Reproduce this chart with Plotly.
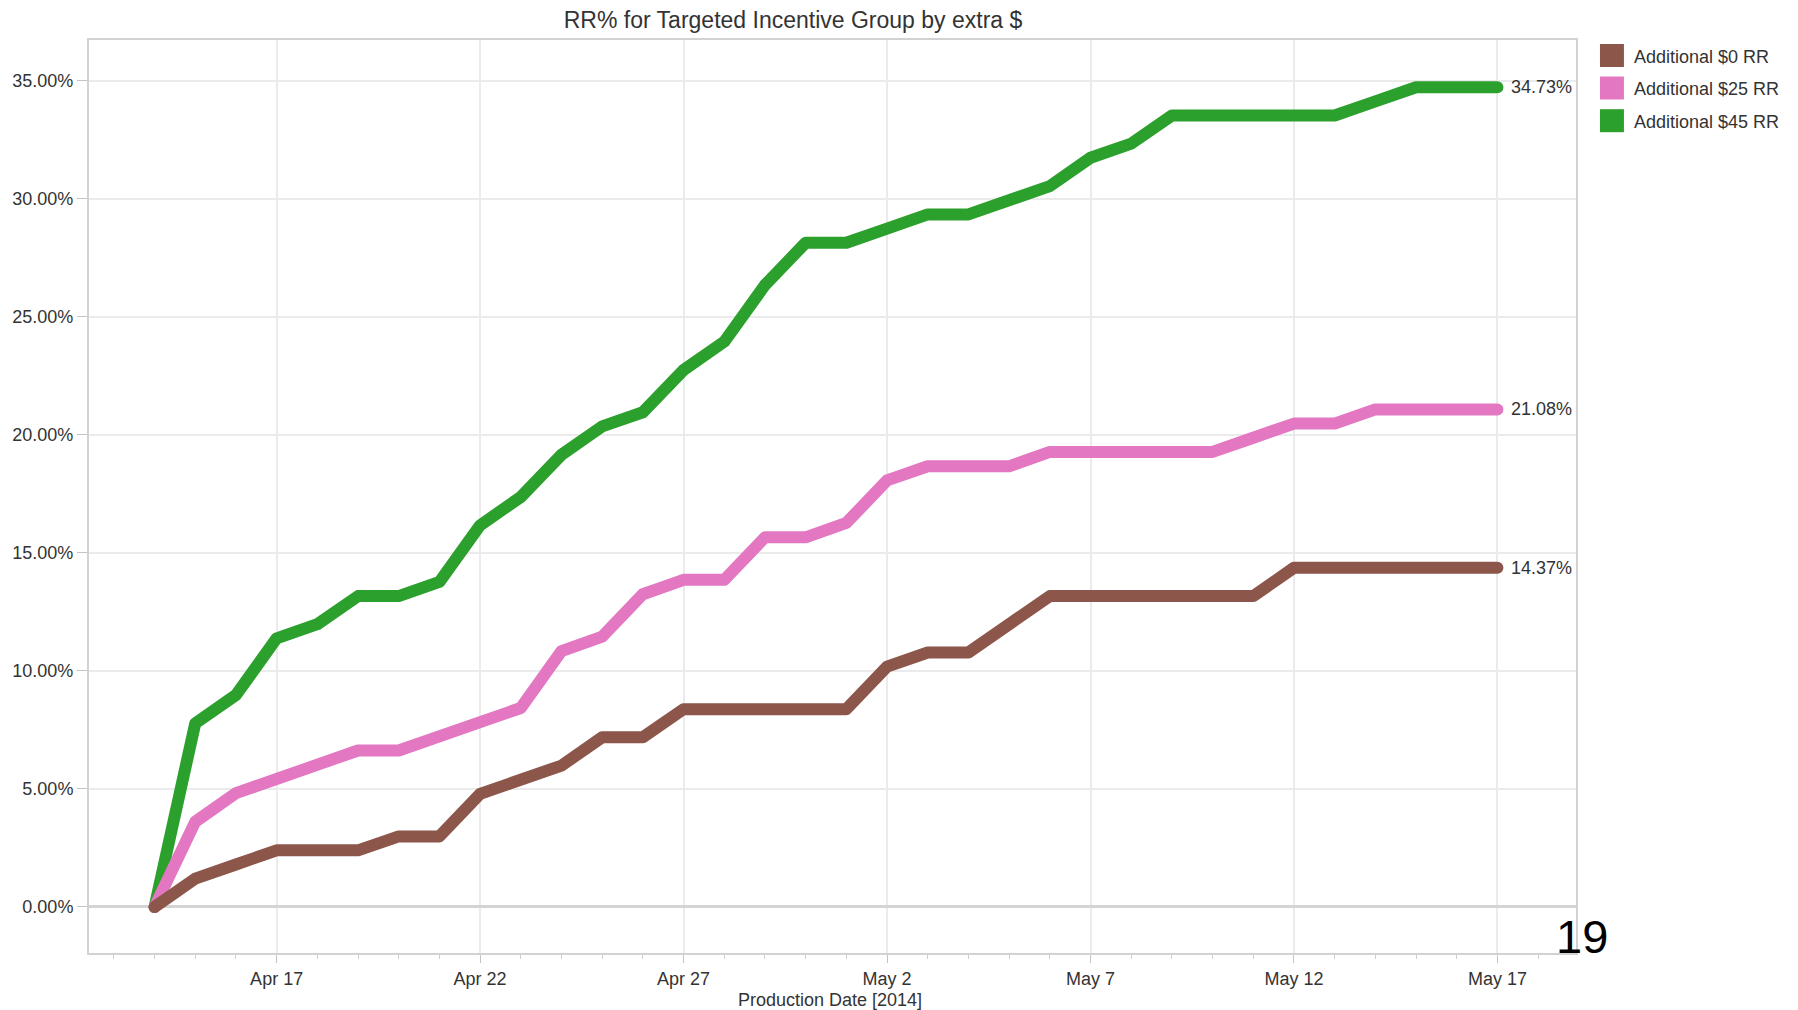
import pandas as pd
import plotly.graph_objects as go

# Daily production dates
dates = pd.date_range("2014-04-14", "2014-05-17", freq="D")

# Cumulative response rate (%) per incentive group
rr_0 = [0.00, 1.20, 1.80, 2.40, 2.40, 2.40, 2.99, 2.99, 4.79, 5.39,
        5.99, 7.19, 7.19, 8.38, 8.38, 8.38, 8.38, 8.38, 10.18, 10.78,
        10.78, 11.98, 13.17, 13.17, 13.17, 13.17, 13.17, 13.17, 14.37, 14.37,
        14.37, 14.37, 14.37, 14.37]
rr_25 = [0.00, 3.61, 4.82, 5.42, 6.02, 6.63, 6.63, 7.23, 7.83, 8.43,
         10.84, 11.45, 13.25, 13.86, 13.86, 15.66, 15.66, 16.27, 18.07, 18.67,
         18.67, 18.67, 19.28, 19.28, 19.28, 19.28, 19.28, 19.88, 20.48, 20.48,
         21.08, 21.08, 21.08, 21.08]
rr_45 = [0.00, 7.78, 8.98, 11.38, 11.98, 13.17, 13.17, 13.77, 16.17, 17.37,
         19.16, 20.36, 20.96, 22.75, 23.95, 26.35, 28.14, 28.14, 28.74, 29.34,
         29.34, 29.94, 30.54, 31.74, 32.34, 33.53, 33.53, 33.53, 33.53, 33.53,
         34.13, 34.73, 34.73, 34.73]

series_names = ["Additional $0 RR", "Additional $25 RR", "Additional $45 RR"]
series_values = [rr_0, rr_25, rr_45]
series_colors = ["#8c564b", "#e377c2", "#2ca02c"]

y_ticks = [0, 5, 10, 15, 20, 25, 30, 35]

FONT = "Liberation Sans, Arial, sans-serif"
TEXT = "#333333"
W, H = 1798, 1010
PLOT_L, PLOT_R, PLOT_T, PLOT_B = 87, 1576, 40, 953


def px(x):
    return (x - PLOT_L) / (PLOT_R - PLOT_L)


def py(y):
    return (PLOT_B - y) / (PLOT_B - PLOT_T)


fig = go.Figure()

# draw green first so the lower series sit on top near the origin
for name, vals, color in reversed(list(zip(series_names, series_values, series_colors))):
    fig.add_trace(go.Scatter(
        x=dates, y=vals, mode="lines", name=name,
        line=dict(color=color, width=12),
        showlegend=False,
        hovertemplate="%{x|%b %-d}: %{y:.2f}%<extra>" + name + "</extra>",
    ))

annotations = []
shapes = []

# end-of-line value labels
for vals in series_values:
    annotations.append(dict(
        x=dates[-1], y=vals[-1], xref="x", yref="y",
        text=f"{vals[-1]:.2f}%", showarrow=False,
        xanchor="left", yanchor="middle", xshift=12,
        font=dict(family=FONT, size=18, color=TEXT),
    ))

# legend: colour swatches with labels
row_centers = [55.5, 88.0, 120.7]
for name, color, yc in zip(series_names, series_colors, row_centers):
    shapes.append(dict(
        type="rect", xref="paper", yref="paper",
        x0=px(1600), x1=px(1624), y0=py(yc + 11.5), y1=py(yc - 11.5),
        fillcolor=color, line=dict(width=0), layer="above",
    ))
    annotations.append(dict(
        x=px(1632), y=py(yc + 1), xref="paper", yref="paper",
        text=name, showarrow=False, xanchor="left", yanchor="middle",
        font=dict(family=FONT, size=18, color=TEXT),
    ))

# x-axis title
annotations.append(dict(
    x=px(829), y=py(1000), xref="paper", yref="paper",
    text="Production Date [2014]", showarrow=False,
    xanchor="center", yanchor="middle",
    font=dict(family=FONT, size=18, color=TEXT),
))

# page number
annotations.append(dict(
    x=px(1582), y=py(936), xref="paper", yref="paper",
    text="19", showarrow=False, xanchor="center", yanchor="middle",
    font=dict(family=FONT, size=47, color="#000000"),
))

fig.update_layout(
    width=W, height=H,
    margin=dict(l=PLOT_L, r=W - PLOT_R, t=PLOT_T, b=H - PLOT_B, pad=0),
    paper_bgcolor="white", plot_bgcolor="white",
    font=dict(family=FONT, size=18, color=TEXT),
    title=dict(
        text="RR% for Targeted Incentive Group by extra $",
        x=793 / W, xref="container", xanchor="center",
        y=1 - 20 / H, yref="container", yanchor="middle",
        font=dict(family=FONT, size=23, color=TEXT),
    ),
    showlegend=False,
    annotations=annotations,
    shapes=shapes,
    xaxis=dict(
        type="date",
        range=["2014-04-12 09:20", "2014-05-18 22:20"],
        tick0="2014-04-17", dtick=5 * 86400000,
        tickformat="%b %-d",
        ticks="outside", ticklen=8, tickcolor="#c4c4c4", tickwidth=1,
        tickfont=dict(family=FONT, size=18, color=TEXT),
        showgrid=True, gridcolor="#ebebeb", gridwidth=2,
        showline=True, linecolor="#d2d2d2", linewidth=2, mirror=True,
        zeroline=False,
        minor=dict(dtick=86400000, tick0="2014-04-12", ticks="outside",
                   ticklen=4, tickcolor="#cfcfcf", showgrid=False),
    ),
    yaxis=dict(
        range=[-1.95, 36.73],
        tickvals=y_ticks,
        ticktext=[f"{v:.2f}%" for v in y_ticks],
        ticks="outside", ticklen=10, tickcolor="#c4c4c4", tickwidth=1,
        tickfont=dict(family=FONT, size=18, color=TEXT),
        showgrid=True, gridcolor="#ebebeb", gridwidth=2,
        zeroline=True, zerolinecolor="#d4d4d4", zerolinewidth=3,
        showline=True, linecolor="#d2d2d2", linewidth=2, mirror=True,
    ),
)

# rounded joins and caps on the series lines
round_lines = """
var gd = document.getElementById('{plot_id}');
function roundLines() {
  gd.querySelectorAll('.scatterlayer .js-line').forEach(function (p) {
    p.style.strokeLinejoin = 'round';
    p.style.strokeLinecap = 'round';
  });
}
roundLines();
gd.on('plotly_afterplot', roundLines);
"""

fig.write_html("out.html", post_script=round_lines)
